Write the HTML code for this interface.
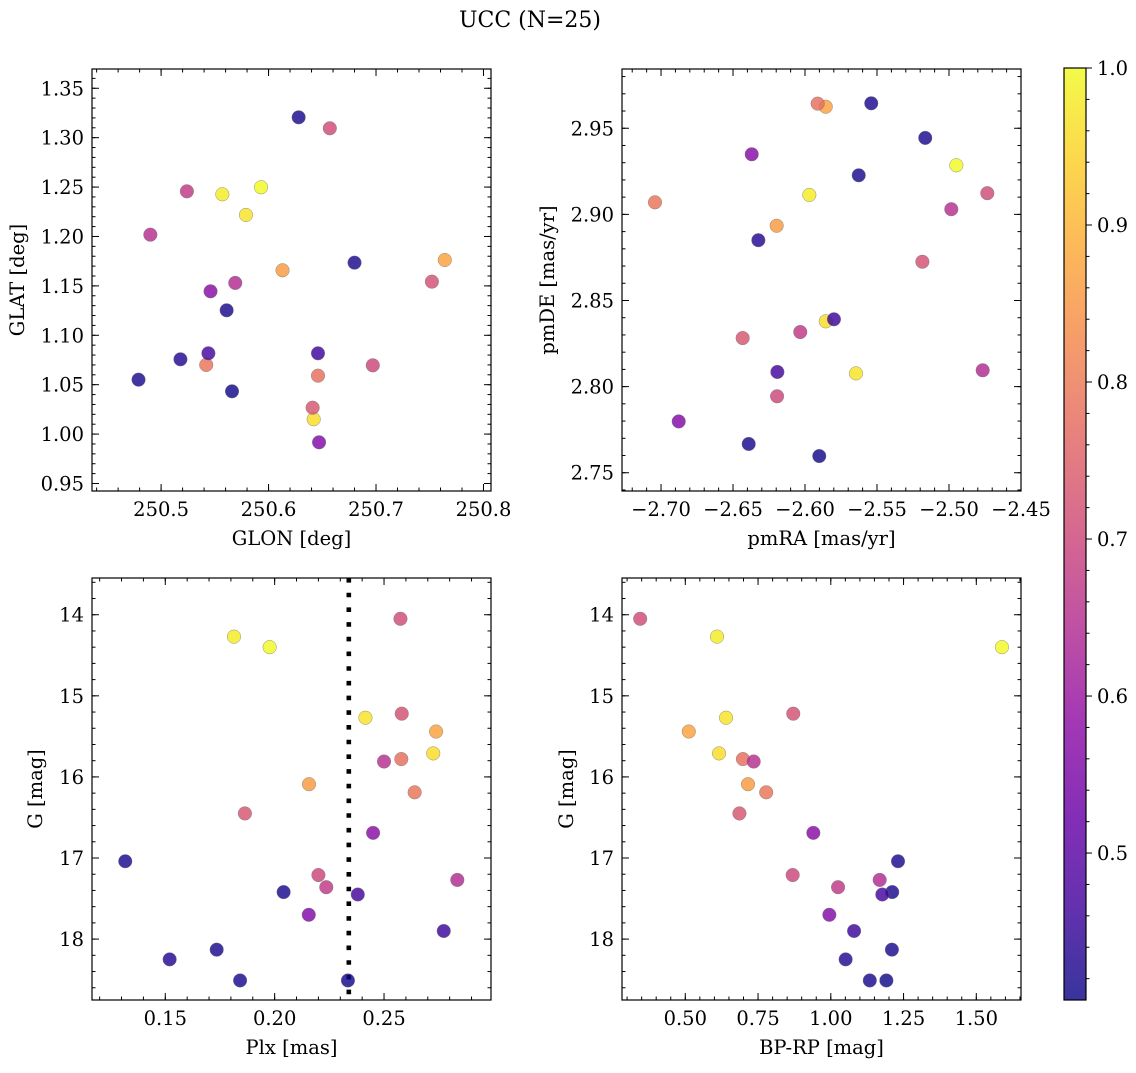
<!DOCTYPE html>
<html><head><meta charset="utf-8"><style>
html,body{margin:0;padding:0;background:#fff;}
svg text{font-family:"DejaVu Serif","Liberation Serif",serif;fill:#000;}
</style></head><body>
<svg id="fig" width="1136" height="1068" viewBox="0 0 1136 1068" xmlns="http://www.w3.org/2000/svg">
<defs>
<linearGradient id="plasma" x1="0" y1="1" x2="0" y2="0">
<stop offset="0" stop-color="#0d0887"/><stop offset="0.1" stop-color="#41049d"/><stop offset="0.2" stop-color="#6a00a8"/><stop offset="0.3" stop-color="#8f0da4"/><stop offset="0.4" stop-color="#b12a90"/><stop offset="0.5" stop-color="#cc4778"/><stop offset="0.6" stop-color="#e16462"/><stop offset="0.7" stop-color="#f2844b"/><stop offset="0.8" stop-color="#fca636"/><stop offset="0.9" stop-color="#fcce25"/><stop offset="1" stop-color="#f0f921"/>
</linearGradient>
</defs>
<text x="530" y="27" font-size="22" text-anchor="middle">UCC (N=25)</text>
</svg>
<script>
// ---- data ----
const glon = [250.657,250.557,250.593,250.752,250.579,250.764,250.642,250.646,250.490,250.613,250.542,250.641,250.546,250.628,250.697,250.569,250.524,250.680,250.544,250.647,250.646,250.561,250.518,250.479,250.566];
const glat = [1.3095,1.2427,1.2498,1.1543,1.2218,1.1762,1.0150,1.0591,1.2018,1.1658,1.0700,1.0267,1.1445,1.3206,1.0696,1.1530,1.2457,1.1735,1.0818,0.9917,1.0818,1.1253,1.0757,1.0551,1.0433];
const pmra = [-2.4734,-2.5970,-2.4949,-2.5185,-2.5646,-2.5856,-2.5856,-2.5912,-2.4984,-2.6197,-2.7042,-2.6433,-2.6370,-2.5540,-2.6194,-2.4766,-2.6033,-2.5165,-2.6192,-2.6877,-2.5799,-2.5627,-2.6324,-2.6391,-2.5901];
const pmde = [2.9123,2.9113,2.9285,2.8725,2.8077,2.9625,2.8379,2.9643,2.9030,2.8934,2.9070,2.8282,2.9349,2.9645,2.7944,2.8095,2.8317,2.9444,2.8085,2.7798,2.8391,2.9227,2.8850,2.7667,2.7597];
const plx = [0.2575,0.1814,0.1977,0.2581,0.2415,0.2738,0.2725,0.2579,0.2500,0.2157,0.2640,0.1864,0.2450,0.1317,0.2200,0.2835,0.2236,0.2041,0.2380,0.2156,0.2773,0.1735,0.1520,0.1842,0.2335];
const gmag = [14.05,14.27,14.40,15.22,15.27,15.44,15.71,15.78,15.81,16.09,16.19,16.45,16.69,17.04,17.21,17.27,17.36,17.42,17.45,17.70,17.90,18.13,18.25,18.51,18.51];
const bprp = [0.345,0.609,1.588,0.871,0.640,0.512,0.616,0.698,0.735,0.7155,0.778,0.686,0.940,1.231,0.869,1.168,1.025,1.211,1.177,0.995,1.080,1.210,1.051,1.134,1.191];
const prob = [0.71,0.98,1.00,0.72,0.97,0.87,0.96,0.78,0.65,0.86,0.79,0.73,0.57,0.42,0.70,0.64,0.67,0.42,0.47,0.56,0.46,0.42,0.43,0.42,0.41];
const plxLine = [0.2339];
const cbarTicks = [0.5,0.6,0.7,0.8,0.9,1.0];
const vmin = 0.4064, vmax = 1.0;

const NS = "http://www.w3.org/2000/svg";
const svg = document.getElementById('fig');
const FS = 19.5;
const stops = [[0,13,8,135],[0.1,65,4,157],[0.2,106,0,168],[0.3,143,13,164],[0.4,177,42,144],[0.5,204,71,120],[0.6,225,100,98],[0.7,242,132,75],[0.8,252,166,54],[0.9,252,206,37],[1,240,249,33]];
function plasma(v){
  let t=(v-vmin)/(vmax-vmin); t=Math.max(0,Math.min(1,t));
  for(let i=0;i<stops.length-1;i++){const a=stops[i],b=stops[i+1];
    if(t<=b[0]){const f=(t-a[0])/(b[0]-a[0]);
      return `rgb(${Math.round(a[1]+f*(b[1]-a[1]))},${Math.round(a[2]+f*(b[2]-a[2]))},${Math.round(a[3]+f*(b[3]-a[3]))})`;}}
  return 'rgb(240,249,33)';
}
function mk(tag,attrs,parent){const e=document.createElementNS(NS,tag);for(const k in attrs)e.setAttribute(k,attrs[k]);(parent||svg).appendChild(e);return e;}
function fmt(v,d){const s=Math.abs(v).toFixed(d);return v<0?'\u2212'+s:s;}

function panel(cfg){
  const g=mk('g',{});
  
  
  const {x0,x1,y0,y1,xd,yd,yinv}=cfg;
  const sx=v=>x0+(v-xd[0])/(xd[1]-xd[0])*(x1-x0);
  const sy=v=>yinv? y0+(v-yd[0])/(yd[1]-yd[0])*(y1-y0) : y1-(v-yd[0])/(yd[1]-yd[0])*(y1-y0);
  if(cfg.vline){cfg.vline.forEach(v=>{
    const l=mk('line',{x1:sx(v),x2:sx(v),y1:y0,y2:y1,stroke:'#000','stroke-width':4.6,'stroke-dasharray':'4.6 10.1'},g);
    
    
  });}
  for(let i=0;i<cfg.xs.length;i++){
    const c=mk('circle',{cx:sx(cfg.xs[i]),cy:sy(cfg.ys[i]),r:6.8,fill:plasma(prob[i]),'fill-opacity':0.82,stroke:'#777','stroke-width':0.4},g);
    
    
  }
  const fr=mk('rect',{x:x0,y:y0,width:x1-x0,height:y1-y0,fill:'none',stroke:'#000','stroke-width':1.2},g);
  
  
  const tk=(x1_,y1_,x2_,y2_)=>mk('line',{x1:x1_,y1:y1_,x2:x2_,y2:y2_,stroke:'#000','stroke-width':1},g);
  const mnx=Math.ceil(xd[0]/cfg.xminor-1e-9), mxx=Math.floor(xd[1]/cfg.xminor+1e-9);
  for(let k=mnx;k<=mxx;k++){const X=sx(k*cfg.xminor);tk(X,y1,X,y1-3.5);tk(X,y0,X,y0+3.5);}
  const mny=Math.ceil(Math.min(yd[0],yd[1])/cfg.yminor-1e-9), mxy=Math.floor(Math.max(yd[0],yd[1])/cfg.yminor+1e-9);
  for(let k=mny;k<=mxy;k++){const Y=sy(k*cfg.yminor);tk(x0,Y,x0+3.5,Y);tk(x1,Y,x1-3.5,Y);}
  cfg.xticks.forEach(v=>{const X=sx(v);tk(X,y1,X,y1-7);tk(X,y0,X,y0+7);
    const t=mk('text',{x:X,y:y1+25,'font-size':FS,'text-anchor':'middle'},g);t.textContent=fmt(v,cfg.xdec);
    
    });
  cfg.yticks.forEach(v=>{const Y=sy(v);tk(x0,Y,x0+7,Y);tk(x1,Y,x1-7,Y);
    const t=mk('text',{x:x0-8,y:Y+7,'font-size':FS,'text-anchor':'end'},g);t.textContent=fmt(v,cfg.ydec);
    
    });
  const xl=mk('text',{x:(x0+x1)/2,y:y1+54,'font-size':FS,'text-anchor':'middle'},g);xl.textContent=cfg.xlabel;
  
  
  const yx=cfg.ylx, yy=(y0+y1)/2;
  const yl=mk('text',{x:yx,y:yy,'font-size':FS,'text-anchor':'middle',transform:`rotate(-90 ${yx} ${yy})`},g);yl.textContent=cfg.ylabel;
  
  
}

panel({name:'glon-glat-panel',x0:92,x1:491,y0:69,y1:491,xd:[250.4357,250.807],yd:[0.9424,1.3695],xs:glon,ys:glat,
  xticks:[250.5,250.6,250.7,250.8],xminor:0.02,xdec:1,yticks:[0.95,1.0,1.05,1.1,1.15,1.2,1.25,1.3,1.35],yminor:0.01,ydec:2,
  xlabel:'GLON [deg]',ylabel:'GLAT [deg]',ylx:24});
panel({name:'pm-panel',x0:622,x1:1021,y0:69,y1:491,xd:[-2.7271,-2.45],yd:[2.7394,2.9844],xs:pmra,ys:pmde,
  xticks:[-2.70,-2.65,-2.60,-2.55,-2.50,-2.45],xminor:0.01,xdec:2,yticks:[2.75,2.80,2.85,2.90,2.95],yminor:0.01,ydec:2,
  xlabel:'pmRA [mas/yr]',ylabel:'pmDE [mas/yr]',ylx:554});
panel({name:'plx-g-panel',x0:92,x1:491,y0:578,y1:1000,xd:[0.1165,0.2989],yd:[13.547,18.751],yinv:true,xs:plx,ys:gmag,
  xticks:[0.15,0.20,0.25],xminor:0.01,xdec:2,yticks:[14,15,16,17,18],yminor:0.2,ydec:0,
  xlabel:'Plx [mas]',ylabel:'G [mag]',ylx:42,vline:plxLine});
panel({name:'cmd-panel',x0:622,x1:1021,y0:578,y1:1000,xd:[0.2825,1.6536],yd:[13.547,18.751],yinv:true,xs:bprp,ys:gmag,
  xticks:[0.5,0.75,1.0,1.25,1.5],xminor:0.05,xdec:2,yticks:[14,15,16,17,18],yminor:0.2,ydec:0,
  xlabel:'BP-RP [mag]',ylabel:'G [mag]',ylx:573});

const cb=mk('g',{});


const cx0=1064,cx1=1086,cy0=68,cy1=1000;
mk('rect',{x:cx0,y:cy0,width:cx1-cx0,height:cy1-cy0,fill:'url(#plasma)','fill-opacity':0.82},cb);
mk('rect',{x:cx0,y:cy0,width:cx1-cx0,height:cy1-cy0,fill:'none',stroke:'#000','stroke-width':1.2},cb);
const cyv=v=>cy1-(v-vmin)/(vmax-vmin)*(cy1-cy0);
for(let k=Math.ceil(vmin/0.02);k<=Math.floor(vmax/0.02+1e-9);k++){const Y=cyv(k*0.02);mk('line',{x1:cx1,x2:cx1+3.5,y1:Y,y2:Y,stroke:'#000','stroke-width':1},cb);}
cbarTicks.forEach(v=>{const Y=cyv(v);mk('line',{x1:cx1,x2:cx1+6,y1:Y,y2:Y,stroke:'#000','stroke-width':1},cb);
  const t=mk('text',{x:cx1+11,y:Y+7,'font-size':FS},cb);t.textContent=v.toFixed(1);
  
  });
</script>
</body></html>
